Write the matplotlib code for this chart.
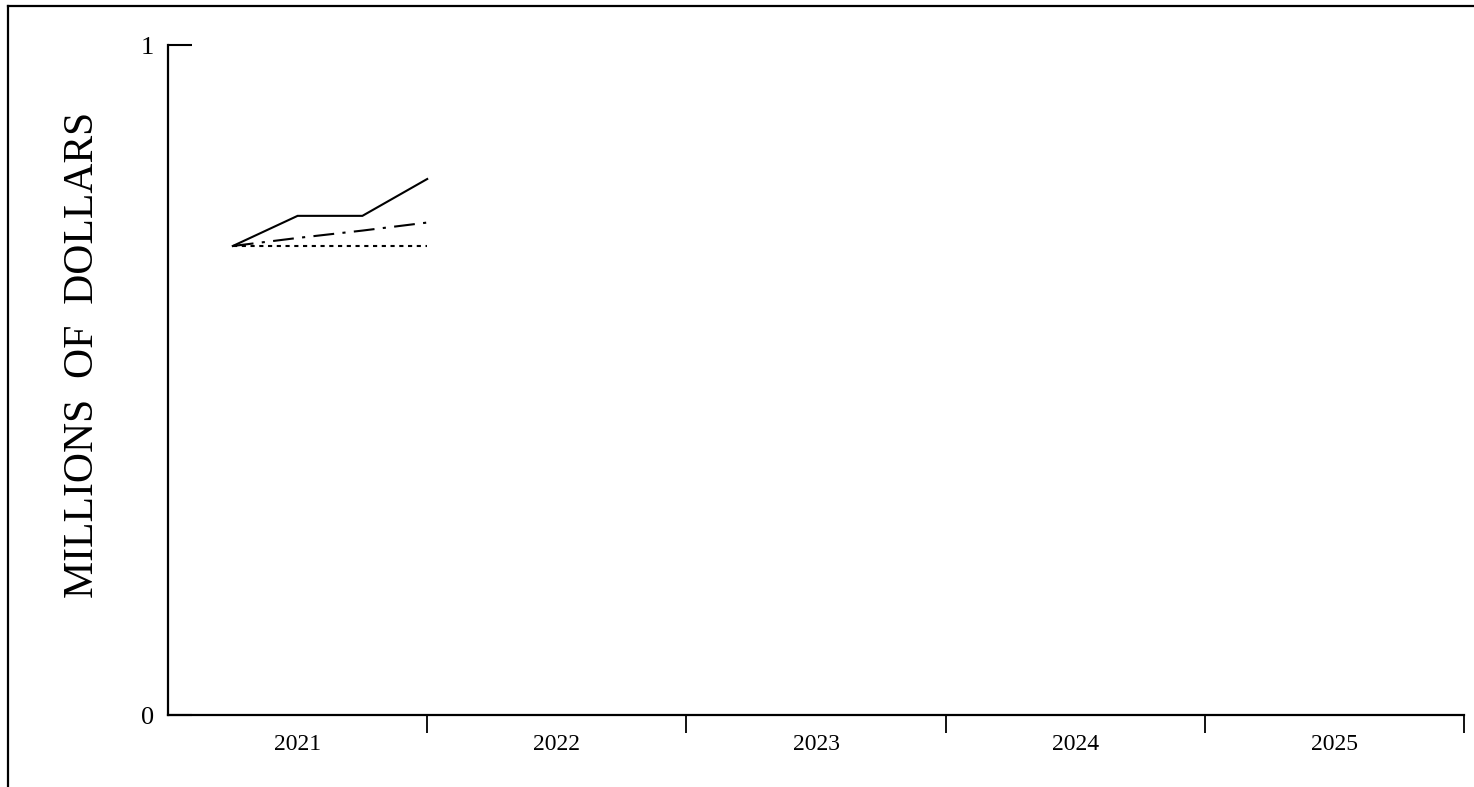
import matplotlib
matplotlib.use("Agg")
import matplotlib.pyplot as plt
from matplotlib.lines import Line2D

plt.rcParams["font.family"] = ["Liberation Serif", "DejaVu Serif"]

# quarterly positions in year units from the start of 2021
quarters = [0.25, 0.5, 0.75, 1.0]
solid_vals = [0.70, 0.745, 0.745, 0.80]
dashdot_vals = [0.70, 0.712, 0.723, 0.735]
dotted_vals = [0.70, 0.70, 0.70, 0.70]
years = ["2021", "2022", "2023", "2024", "2025"]
y_ticks = [0, 1]

W, H = 1474, 787
fig = plt.figure(figsize=(W / 100, H / 100), dpi=100)
ax = fig.add_axes([168 / W, 1 - 715 / H, (1464 - 168) / W, (715 - 45) / H])

ax.plot(quarters, solid_vals, color="black", lw=1.5, solid_joinstyle="miter")
ax.plot(quarters, dashdot_vals, color="black", lw=1.5, dashes=(10, 4, 1.5, 4))
ax.plot(quarters, dotted_vals, color="black", lw=1.5, dashes=(2, 2.2))

ax.set_xlim(0, len(years))
ax.set_ylim(0, 1)
ax.set_xticks(range(1, len(years) + 1))
ax.set_xticklabels([])
ax.set_xticks([i + 0.5 for i in range(len(years))], minor=True)
ax.set_xticklabels(years, minor=True)
ax.tick_params(axis="x", which="major", direction="out", length=13, width=1.3)
ax.tick_params(axis="x", which="minor", length=0, pad=14, labelsize=17)
ax.set_yticks(y_ticks)
ax.set_yticklabels([str(v) for v in y_ticks])
ax.tick_params(axis="y", direction="in", length=17.5, width=1.5, pad=10, labelsize=19)

for side in ["top", "right"]:
    ax.spines[side].set_visible(False)
for side in ["left", "bottom"]:
    ax.spines[side].set_linewidth(1.6)

fig.text(83 / W, 1 - 355 / H, "MILLIONS  OF  DOLLARS", rotation=90,
         ha="center", va="center", fontsize=30)

# outer frame, only its top and left edges fall inside the picture
fig.add_artist(Line2D([8 / W, 1.0], [1 - 6 / H, 1 - 6 / H], color="black", lw=1.6,
                      transform=fig.transFigure))
fig.add_artist(Line2D([8 / W, 8 / W], [0.0, 1 - 6 / H], color="black", lw=1.6,
                      transform=fig.transFigure))

fig.savefig("out.png", dpi=100)
